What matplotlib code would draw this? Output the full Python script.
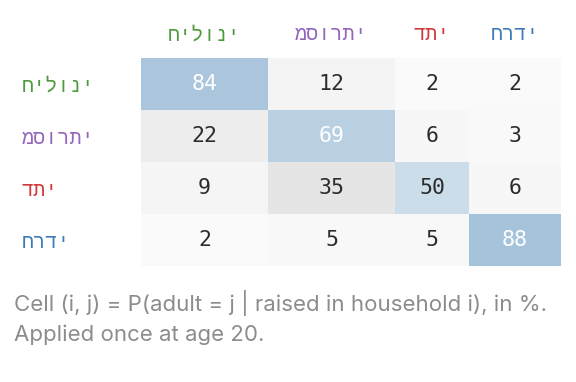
import numpy as np
import matplotlib
matplotlib.use("Agg")
import matplotlib.pyplot as plt
from matplotlib.patches import Rectangle

# household of origin (rows) -> adult identity (columns)
groups = ["חילוני", "מסורתי", "דתי", "חרדי"]
group_colors = ["#4f9a3d", "#9467bd", "#d03a3a", "#3f7bb8"]
matrix = [
    [84, 12, 2, 2],
    [22, 69, 6, 3],
    [9, 35, 50, 6],
    [2, 5, 5, 88],
]
caption = ["Cell (i, j) = P(adult = j | raised in household i), in %.",
           "Applied once at age 20."]

# layout in pixels
col_w = [127, 127, 74, 92]
row_h = 52
left, top = 141, 58
col_edges = left + np.concatenate([[0], np.cumsum(col_w)])

fig = plt.figure(figsize=(5.76, 3.82), dpi=100)
ax = fig.add_axes([0, 0, 1, 1])
ax.set_xlim(0, 576)
ax.set_ylim(382, 0)
ax.axis("off")

mono = ["DejaVu Sans Mono", "Liberation Mono"]
heb = ["Liberation Mono", "DejaVu Sans"]

for i, row in enumerate(matrix):
    y = top + i * row_h
    for j, v in enumerate(row):
        x = col_edges[j]
        p = v / 100
        if i == j:
            a = 0.55 * p
            fc = tuple(1 - a * (1 - c) for c in (70/255, 130/255, 180/255))
        else:
            g = 1 - (0.015 + 0.25 * p)
            fc = (g, g, g)
        ax.add_patch(Rectangle((x, y), col_w[j], row_h, facecolor=fc,
                               edgecolor="none"))
        ax.text(x + col_w[j] / 2, y + row_h / 2, str(v), family=mono,
                fontsize=15.5, ha="center", va="center",
                color="white" if v > 60 else "#2b2b2b")

for j, (g, c) in enumerate(zip(groups, group_colors)):
    ax.text((col_edges[j] + col_edges[j + 1]) / 2, 35, g, family=heb,
            fontsize=14.5, color=c, ha="center", va="center")
    ax.text(22, top + j * row_h + row_h / 2 + 2, g, family=heb,
            fontsize=14.5, color=c, ha="left", va="center")

for k, line in enumerate(caption):
    ax.text(14, 303 + k * 32, line, family=["Inter", "DejaVu Sans"],
            fontsize=16, color="#8c8c8c", ha="left", va="center")

fig.savefig("out.png", dpi=100, facecolor="white")
